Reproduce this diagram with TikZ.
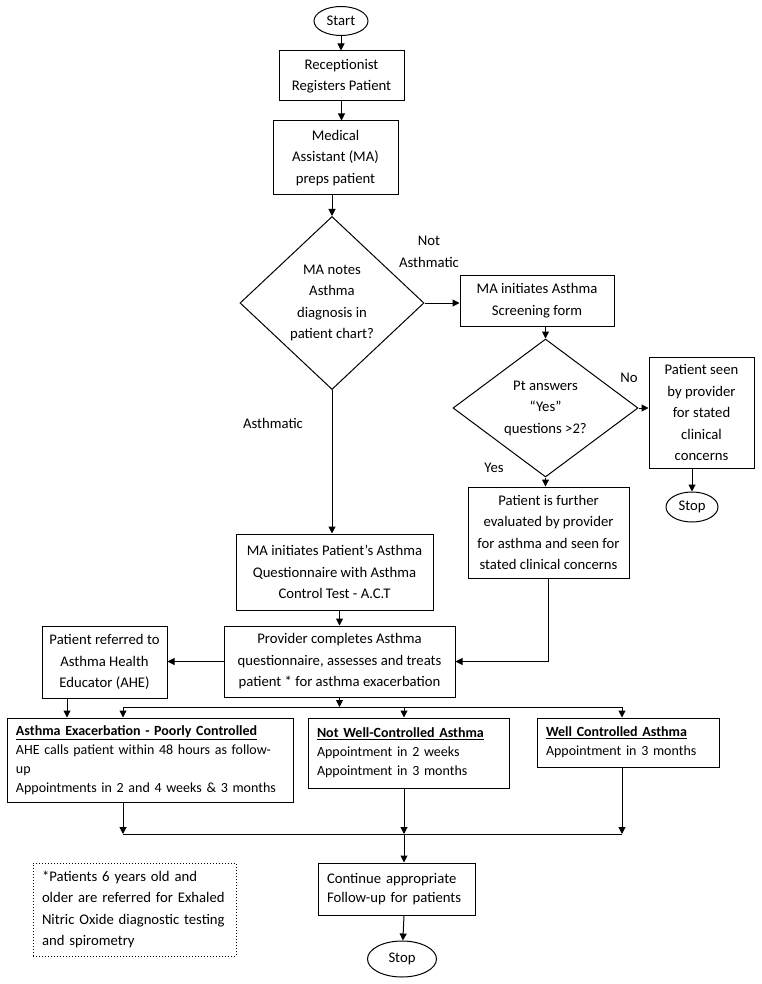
\documentclass[tikz,border=0pt]{standalone}
\usepackage{fontspec}
\setmainfont{Carlito}
\usetikzlibrary{shapes.geometric,arrows.meta}
\tikzset{
  box/.style={draw, line width=1pt, align=center, inner sep=0pt, font=\fontsize{14.7}{21.5}\selectfont},
  lbox/.style={draw, line width=1pt, align=left, inner xsep=9pt, inner ysep=0pt, font=\fontsize{14}{19}\selectfont},
  dec/.style={draw, diamond, line width=1pt, align=center, inner sep=0pt, font=\fontsize{14.7}{21.5}\selectfont},
  term/.style={draw, ellipse, line width=1pt, inner sep=0pt, font=\fontsize{14.7}{21.5}\selectfont},
  lbl/.style={align=center, inner sep=0pt, font=\fontsize{14.7}{21.5}\selectfont},
  arr/.style={line width=1pt, -{Triangle[length=7pt,width=7pt]}},
  ln/.style={line width=1pt}
}
\begin{document}
\begin{tikzpicture}[x=1pt, y=-1pt]
\useasboundingbox (0,0) rectangle (762,984);
\node[term, minimum width=54pt, minimum height=29pt] (start) at (341,21) {Start};
\node[box, minimum width=125pt, minimum height=50pt] (recept) at (341.5,76) {Receptionist\\Registers Patient};
\node[box, minimum width=125pt, minimum height=74pt] (prep) at (335.5,158) {Medical\\Assistant (MA)\\preps patient};
\node[dec, aspect=1.06, minimum width=184pt, minimum height=173pt] (chart) at (332,303) {MA notes\\Asthma\\diagnosis in\\patient chart?};
\node[lbl] (notlbl) at (429,252) {Not\\Asthmatic};
\node[box, minimum width=154pt, minimum height=51pt] (screen) at (537,300.5) {MA initiates Asthma\\Screening form};
\node[dec, aspect=1.34, minimum width=185pt, minimum height=138pt] (answers) at (545.5,408) {Pt answers\\“Yes”\\questions >2?};
\node[lbl] (nolbl) at (629,378) {No};
\node[lbl] (yeslbl) at (494,468) {Yes};
\node[box, minimum width=105pt, minimum height=111pt] (seen) at (701.5,412.5) {Patient seen\\by provider\\for stated\\clinical\\concerns};
\node[term, minimum width=52pt, minimum height=30pt] (stopa) at (692,507) {Stop};
\node[box, minimum width=161pt, minimum height=91pt] (further) at (548.5,532.5) {Patient is further\\evaluated by provider\\for asthma and seen for\\stated clinical concerns};
\node[lbl] (asthlbl) at (273,423) {Asthmatic};
\node[box, minimum width=197pt, minimum height=76pt] (act) at (334.5,572) {MA initiates Patient’s Asthma\\Questionnaire with Asthma\\Control Test - A.C.T};
\node[box, minimum width=231pt, minimum height=71pt] (provider) at (339.5,661.5) {Provider completes Asthma\\questionnaire, assesses and treats\\patient * for asthma exacerbation};
\node[box, minimum width=125pt, minimum height=72pt] (ahe) at (104.5,662) {Patient referred to\\Asthma Health\\Educator (AHE)};
\node[lbox, text width=268pt, minimum height=84pt] (exac) at (150,760) {\underline{\textbf{Asthma Exacerbation - Poorly Controlled}}\\AHE calls patient within 48 hours as follow-\\up\\Appointments in 2 and 4 weeks \& 3 months};
\node[lbox, text width=183pt, minimum height=70pt] (notwell) at (408.5,753) {\underline{\textbf{Not Well-Controlled Asthma}}\\Appointment in 2 weeks\\Appointment in 3 months};
\node[lbox, text width=164pt, minimum height=49pt] (well) at (628,742.5) {\underline{\textbf{Well Controlled Asthma}}\\Appointment in 3 months};
\node[lbox, text width=139pt, minimum height=52pt, font=\fontsize{14.7}{19}\selectfont] (cont) at (396.5,889) {Continue appropriate\\Follow-up for patients};
\node[term, minimum width=69pt, minimum height=36pt] (stopb) at (402,959) {Stop};
\node[lbox, dotted, text width=185pt, minimum height=93pt, font=\fontsize{14.7}{21.5}\selectfont] (note) at (134.5,909.5) {*Patients 6 years old and\\older are referred for Exhaled\\Nitric Oxide diagnostic testing\\and spirometry};
\coordinate (split) at (339.5,707);
\coordinate (sa) at (123,707);
\coordinate (sb) at (404,707);
\coordinate (sc) at (622,707);
\coordinate (ma) at (123,834);
\coordinate (mb) at (404,834);
\coordinate (mc) at (622,834);
\draw[arr] (start) -- (start |- recept.north);
\draw[arr] (recept.south) -- (recept.south |- prep.north);
\draw[arr] (prep.south -| chart.north) -- (chart.north);
\draw[arr] (chart.east) -- (chart.east -| screen.west);
\draw[arr] (screen.south -| answers.north) -- (answers.north);
\draw[arr] (answers.east) -- (answers.east -| seen.west);
\draw[arr] (stopa.north |- seen.south) -- (stopa.north);
\draw[arr] (answers.south) -- (answers.south |- further.north);
\draw[arr] (chart.south) -- (chart.south |- act.north);
\draw[arr] (provider.north |- act.south) -- (provider.north);
\draw[arr] (further.south) |- (provider.east);
\draw[arr] (provider.west) -- (provider.west -| ahe.east);
\draw[arr] ([xshift=-37.5pt]ahe.south) -- ([xshift=-37.5pt]ahe.south |- exac.north);
\draw[arr] (provider) -- (split);
\draw[ln] (sa) -- (sc);
\foreach \s/\t in {sa/exac, sb/notwell, sc/well}
  \draw[arr] (\s) -- (\s |- \t.north);
\foreach \s/\t in {ma/exac, mb/notwell, mc/well}
  \draw[arr] (\s |- \t.south) -- (\s);
\draw[ln] (ma) -- (mc);
\draw[arr] (mb) -- (mb |- cont.north);
\draw[arr] (mb |- cont.south) -- (stopb);
\end{tikzpicture}
\end{document}
